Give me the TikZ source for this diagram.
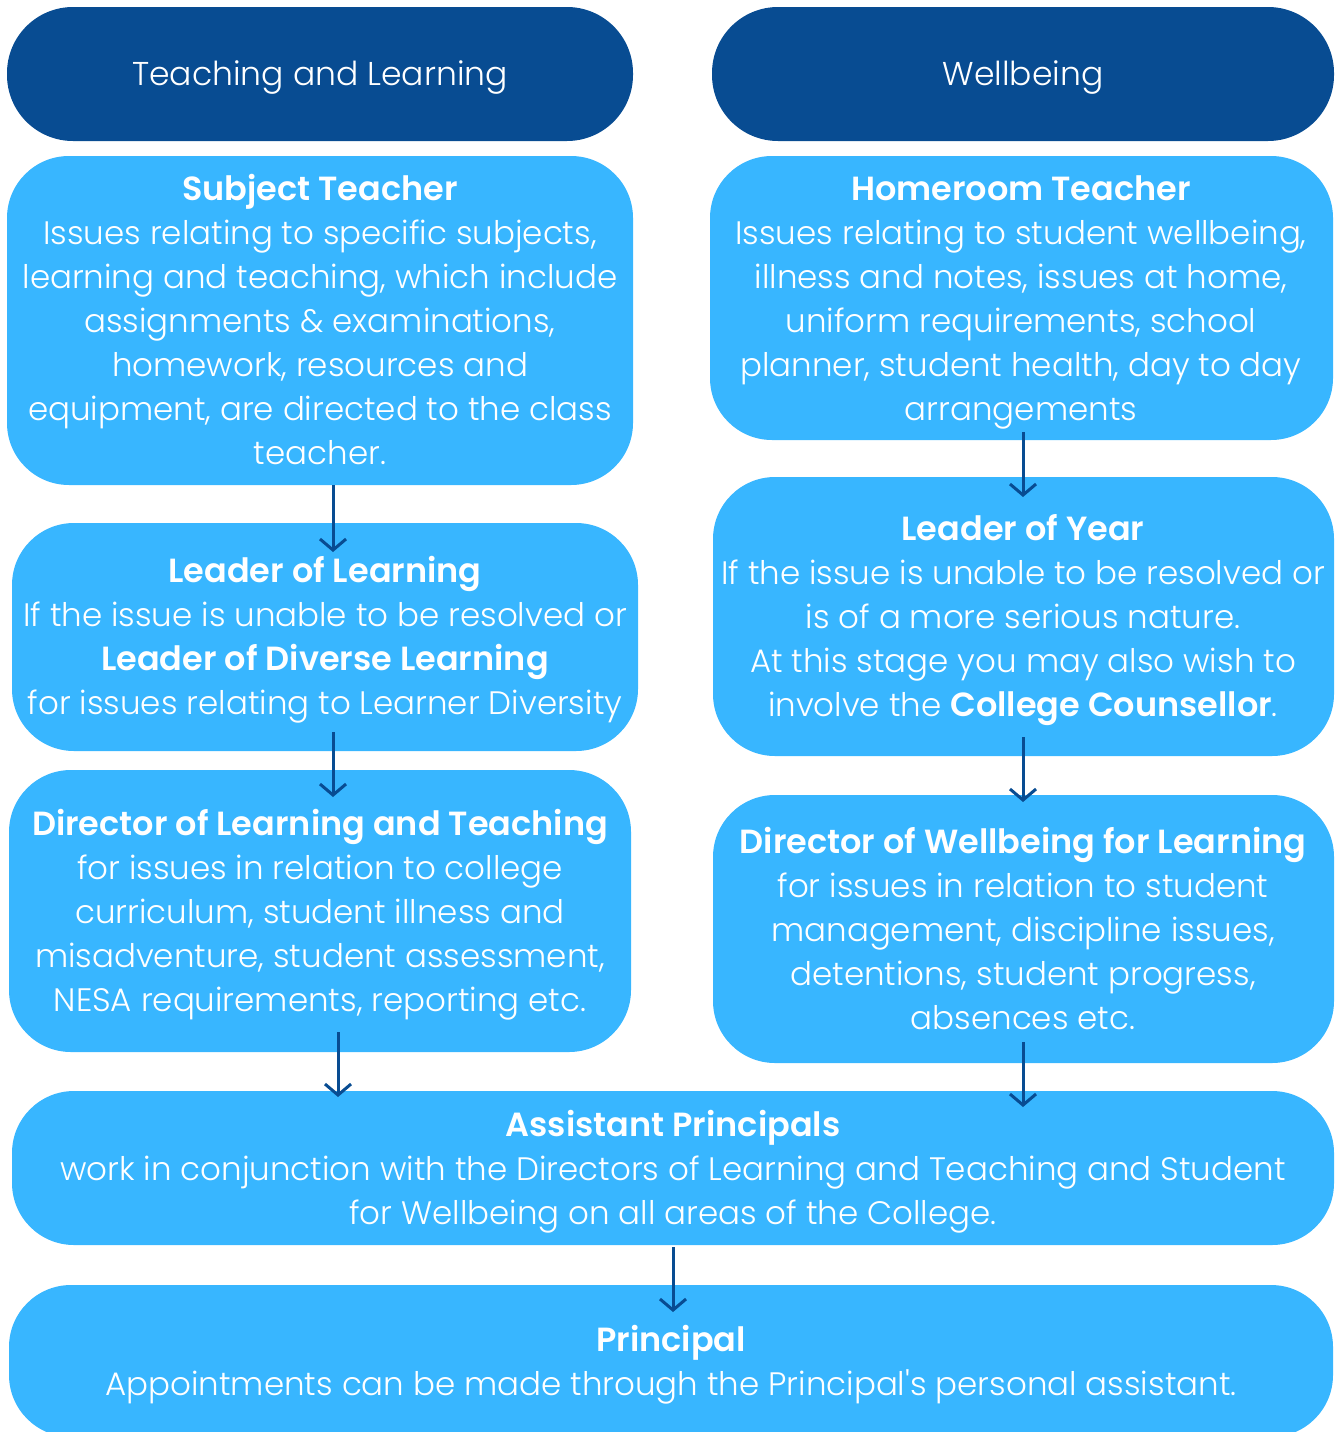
\documentclass[tikz,border=0pt]{standalone}
\usepackage{fontspec}
\setmainfont{Poppins}[UprightFont=* Light, BoldFont=* SemiBold, Ligatures=TeXOff]
\usetikzlibrary{arrows.meta}
\definecolor{dkblue}{RGB}{8,76,146}
\definecolor{ltblue}{RGB}{56,182,255}
\tikzset{
  hdr/.style={text=white, inner sep=0pt, font=\fontsize{33}{44}\selectfont},
  box/.style={text=white, align=center, inner sep=0pt,
    font=\fontsize{32.5}{44}\selectfont},
  hdrbg/.style={fill=dkblue, rounded corners=66pt},
  boxbg/.style={fill=ltblue, rounded corners=62pt},
  flow/.style={draw=dkblue, line width=3pt, -{Straight Barb[length=11pt,width=26pt,line width=3pt]}}
}
\newcommand{\tb}[1]{{\fontsize{33.5}{44}\selectfont\bfseries #1}}
\begin{document}
\begin{tikzpicture}[x=1pt,y=-1pt]
\useasboundingbox (0,0) rectangle (1340,1432);
% headers
\fill[hdrbg] (7,7) rectangle (633,141);
\node[hdr] (h1) at (320,78) {Teaching and Learning};
\fill[hdrbg] (712,7) rectangle (1334,141);
\node[hdr] (h2) at (1023,78) {Wellbeing};
% boxes
\fill[boxbg] (7,156) rectangle (633,485);
\node[box] (st) at (320,319) {\tb{Subject Teacher}\\Issues relating to specific subjects,\\learning and teaching, which include\\assignments \& examinations,\\homework, resources and\\equipment, are directed to the class\\teacher.};
\fill[boxbg] (710,156) rectangle (1333,440);
\node[box] (ht) at (1021,302) {\tb{Homeroom Teacher}\\Issues relating to student wellbeing,\\illness and notes, issues at home,\\uniform requirements, school\\planner, student health, day to day\\arrangements};
\fill[boxbg] (12,523) rectangle (638,751);
\node[box] (ll) at (325,640) {\tb{Leader of Learning}\\If the issue is unable to be resolved or\\\tb{Leader of Diverse Learning}\\for issues relating to Learner Diversity};
\fill[boxbg] (713,477) rectangle (1334,756);
\node[box] (ly) at (1023,620) {\tb{Leader of Year}\\If the issue is unable to be resolved or\\is of a more serious nature.\\At this stage you may also wish to\\involve the \tb{College Counsellor}.};
\fill[boxbg] (9,770) rectangle (631,1052);
\node[box] (dl) at (320,915) {\tb{Director of Learning and Teaching}\\for issues in relation to college\\curriculum, student illness and\\misadventure, student assessment,\\NESA requirements, reporting etc.};
\fill[boxbg] (713,795) rectangle (1334,1063);
\node[box] (dw) at (1023,928) {\tb{Director of Wellbeing for Learning}\\for issues in relation to student\\management, discipline issues,\\detentions, student progress,\\absences etc.};
\fill[boxbg] (12,1091) rectangle (1334,1245);
\node[box] (ap) at (673,1172) {\tb{Assistant Principals}\\work in conjunction with the Directors of Learning and Teaching and Student\\for Wellbeing on all areas of the College.};
\fill[boxbg] (9,1285) rectangle (1333,1437);
\node[box] (pr) at (671,1365) {\tb{Principal}\\Appointments can be made through the Principal's personal assistant.};
% arrows
\coordinate (a1s) at (333,485); \coordinate (a1e) at (333,552);
\coordinate (a2s) at (1023,432); \coordinate (a2e) at (1023,497);
\coordinate (a3s) at (333,732); \coordinate (a3e) at (333,797);
\coordinate (a4s) at (1023,737); \coordinate (a4e) at (1023,802);
\coordinate (a5s) at (338,1032); \coordinate (a5e) at (338,1097);
\coordinate (a6s) at (1023,1042); \coordinate (a6e) at (1023,1107);
\coordinate (a7s) at (673,1247); \coordinate (a7e) at (673,1312);
\draw[flow] (a1s) -- (a1e);
\draw[flow] (a2s) -- (a2e);
\draw[flow] (a3s) -- (a3e);
\draw[flow] (a4s) -- (a4e);
\draw[flow] (a5s) -- (a5e);
\draw[flow] (a6s) -- (a6e);
\draw[flow] (a7s) -- (a7e);
\end{tikzpicture}
\end{document}
